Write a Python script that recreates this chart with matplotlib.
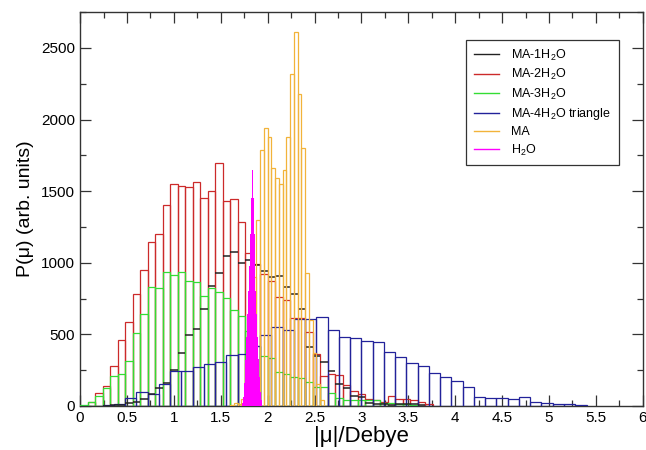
import numpy as np
import matplotlib
matplotlib.use('Agg')
import matplotlib.pyplot as plt
from matplotlib.lines import Line2D
from matplotlib.ticker import MultipleLocator, FuncFormatter

plt.rcParams['font.family'] = ['Liberation Sans', 'DejaVu Sans']
plt.rcParams['mathtext.fontset'] = 'custom'
plt.rcParams['mathtext.rm'] = 'Liberation Sans'
plt.rcParams['mathtext.it'] = 'Liberation Sans:italic'
plt.rcParams['mathtext.default'] = 'regular'

# MA-1H2O, MA-2H2O, MA-3H2O: bins of 0.08 Debye starting at 0
w_mix = 0.08
ma1 = [0, 0, 0, 2, 5, 8, 20, 30, 45, 80, 124, 163, 251, 372, 495, 535, 677,
       840, 931, 1050, 1078, 1001, 1020, 985, 943, 903, 910, 830, 780, 677,
       414, 351, 310, 247, 150, 124, 70, 60, 20, 15, 10, 8, 12, 15, 10, 5]
ma2 = [0, 25, 89, 140, 279, 459, 587, 780, 947, 1148, 1203, 1404, 1553, 1539,
       1532, 1562, 1455, 1499, 1699, 1430, 1446, 1283, 1070, 990, 920, 870,
       759, 742, 612, 612, 515, 363, 209, 223, 215, 147, 107, 80, 50, 42, 30,
       72, 49, 47, 40, 25, 10]
ma3 = [8, 30, 70, 123, 209, 221, 314, 507, 642, 829, 822, 936, 915, 936, 875,
       868, 770, 826, 798, 752, 670, 628, 520, 420, 351, 337, 235, 221, 205,
       193, 166, 135, 130, 89, 54, 42, 42, 42, 42, 42, 20, 20, 15, 10, 5]

# MA-4H2O triangle: bins of 0.12 Debye starting at 0
w_tri = 0.12
ma4 = [0, 0, 5, 14, 54, 96, 82, 152, 244, 244, 275, 293, 310, 356, 363, 420,
       496, 550, 531, 608, 605, 619, 531, 484, 477, 454, 445, 379, 340, 298,
       279, 228, 200, 177, 131, 65, 54, 54, 47, 65, 30, 19, 14, 10, 7]

# MA: bins of 0.04 Debye starting at 1.60
w_ma, x0_ma = 0.04, 1.60
ma = [5, 20, 15, 50, 300, 550, 900, 1299, 1788, 1939, 1881, 1660, 1590, 1550,
      1648, 1881, 2316, 2614, 2179, 1800, 927, 600, 370, 150, 40]

# H2O: bins of 0.01 Debye starting at 1.73
w_h2o, x0_h2o = 0.01, 1.73
h2o = [20, 60, 160, 320, 480, 640, 800, 980, 1200, 1450, 1650, 1450, 1200,
       980, 800, 640, 480, 330, 200, 100, 40]

labels = ['MA-1H$_2$O', 'MA-2H$_2$O', 'MA-3H$_2$O', 'MA-4H$_2$O triangle',
          'MA', 'H$_2$O']

C_BLACK = '#222222'
C_RED = '#cc2a2a'
C_GREEN = '#33dd33'
C_BLUE = '#22229a'
C_ORANGE = '#f2b33a'
C_MAG = '#ff00ff'
LW = 0.9

fig = plt.figure(figsize=(6.46, 4.5), dpi=100)
ax = fig.add_axes([0.124, 0.098, 0.871, 0.875])


def outline_bars(ax, vals, width, start, color, z):
    vals = np.asarray(vals, dtype=float)
    left = start + width * np.arange(len(vals))
    ax.bar(left, vals, width=width, align='edge', fill=False,
           edgecolor=color, linewidth=LW, zorder=z)


outline_bars(ax, ma2, w_mix, 0.0, C_RED, 2)
outline_bars(ax, ma3, w_mix, 0.0, C_GREEN, 3)
outline_bars(ax, ma4, w_tri, 0.0, C_BLUE, 4)

# MA-1H2O only shows its bin tops
v1 = np.asarray(ma1, dtype=float)
e1 = w_mix * np.arange(len(v1) + 1)
keep = v1 > 0
ax.hlines(v1[keep], e1[:-1][keep], e1[1:][keep], color=C_BLACK, lw=1.1, zorder=5)

outline_bars(ax, ma, w_ma, x0_ma, C_ORANGE, 6)

e_h = x0_h2o + w_h2o * np.arange(len(h2o) + 1)
ax.stairs(h2o, e_h, fill=True, color=C_MAG, lw=0.6, zorder=7)

ax.set_xlim(0, 6)
ax.set_ylim(0, 2750)
ax.xaxis.set_major_locator(MultipleLocator(0.5))
ax.xaxis.set_minor_locator(MultipleLocator(0.25))
ax.yaxis.set_major_locator(MultipleLocator(500))
ax.yaxis.set_minor_locator(MultipleLocator(250))
ax.xaxis.set_major_formatter(FuncFormatter(lambda v, p: f"{v:g}"))
ax.tick_params(which='both', direction='in', top=True, right=True,
               color='#333333', width=0.9, labelsize=11)
ax.tick_params(which='major', length=8)
ax.tick_params(which='minor', length=4)
for s in ax.spines.values():
    s.set_color('#333333')
    s.set_linewidth(1.0)

ax.set_xlabel('|\u03bc|/Debye', fontsize=16, labelpad=1)
ax.set_ylabel('P(\u03bc) (arb. units)', fontsize=14, labelpad=5)

handles = [Line2D([], [], color=c, lw=1.0)
           for c in [C_BLACK, C_RED, C_GREEN, C_BLUE, C_ORANGE, C_MAG]]
leg = ax.legend(handles, labels, loc='upper right',
                bbox_to_anchor=(0.957, 0.929), fontsize=9, frameon=True,
                fancybox=False, framealpha=1, edgecolor='#333333',
                handlelength=2.0, labelspacing=0.35, borderpad=0.6,
                handletextpad=1.0, borderaxespad=0)
leg.get_frame().set_linewidth(0.9)

fig.savefig('out.png', dpi=100)
